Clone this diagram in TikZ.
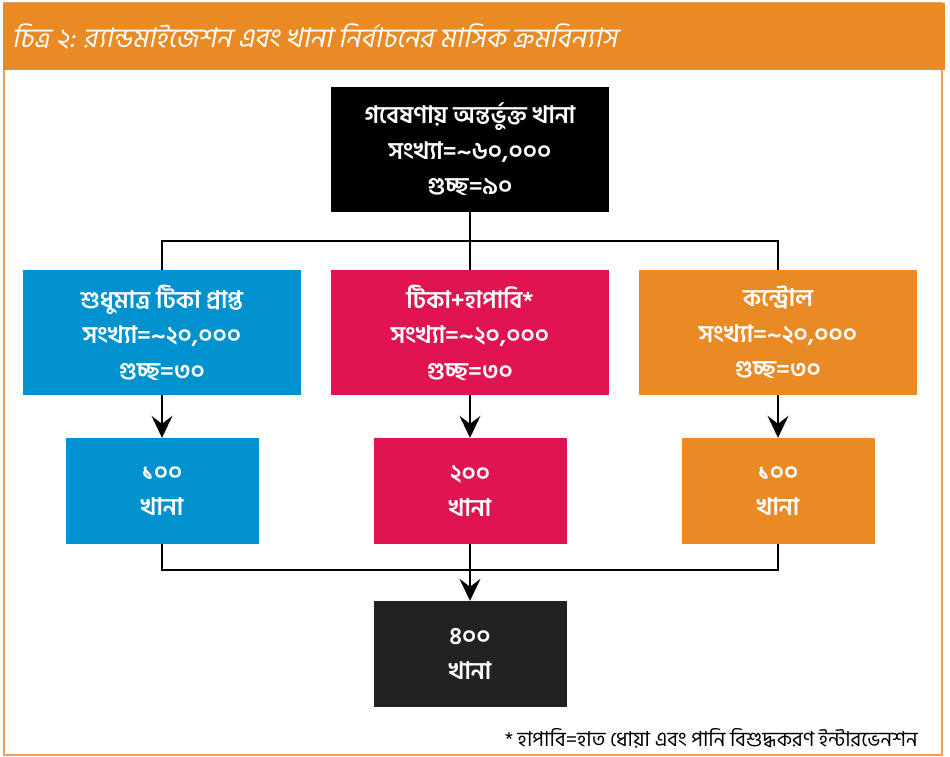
\documentclass[tikz,border=0pt]{standalone}
\usepackage{fontspec}
\newfontfamily\bn[Script=Bengali]{Hind Siliguri}
\newfontfamily\bnit[Script=Bengali,FakeSlant=0.2]{Hind Siliguri}
\usetikzlibrary{arrows.meta}
\definecolor{ttlorange}{HTML}{E98A24}
\definecolor{cblue}{HTML}{0092CF}
\definecolor{cpink}{HTML}{E01450}
\definecolor{corange}{HTML}{E98A24}
\definecolor{cdark}{HTML}{232220}
\definecolor{framec}{HTML}{EAA15A}
\tikzset{
  bigbox/.style={draw=none, minimum width=278pt, minimum height=125pt, inner sep=0pt, align=center, text=white,
    font=\bn\bfseries\fontsize{24}{35.5}\selectfont},
  smallbox/.style={draw=none, minimum width=193pt, minimum height=106pt, inner sep=0pt, align=center, text=white,
    font=\bn\bfseries\fontsize{24}{35.5}\selectfont},
  conn/.style={draw=black, line width=1.5pt},
  arr/.style={conn, -{Stealth[length=22pt, width=21pt, inset=8pt]}},
}
\begin{document}
\begin{tikzpicture}[x=1pt,y=-1pt]
\useasboundingbox (0,0) rectangle (950,757);
\fill[white] (0,0) rectangle (950,757);
% frame and title bar
\draw[framec, line width=1.5pt] (4,3) rectangle (942,755);
\fill[ttlorange] (3,3) rectangle (945,70);
\node[anchor=west, text=white, inner sep=0pt, font=\bnit\fontsize{27}{30}\selectfont] (title) at (12,37)
  {চিত্র ২: র‍্যান্ডমাইজেশন এবং খানা নির্বাচনের মাসিক ক্রমবিন্যাস};
% boxes
\node[bigbox, fill=black] (top) at (470,149.5) {গবেষণায় অন্তর্ভুক্ত খানা\\সংখ্যা=\textasciitilde৬০,০০০\\গুচ্ছ=৯০};
\node[bigbox, fill=cblue] (b1) at (162,332.5) {শুধুমাত্র টিকা প্রাপ্ত\\সংখ্যা=\textasciitilde২০,০০০\\গুচ্ছ=৩০};
\node[bigbox, fill=cpink] (b2) at (470,332.5) {টিকা+হাপাবি*\\সংখ্যা=\textasciitilde২০,০০০\\গুচ্ছ=৩০};
\node[bigbox, fill=corange] (b3) at (778,332.5) {কন্ট্রোল\\সংখ্যা=\textasciitilde২০,০০০\\গুচ্ছ=৩০};
\node[smallbox, fill=cblue] (c1) at (162,491) {১০০\\খানা};
\node[smallbox, fill=cpink] (c2) at (470,491) {২০০\\খানা};
\node[smallbox, fill=corange] (c3) at (778,491) {১০০\\খানা};
\node[smallbox, fill=cdark] (d) at (470,654) {৪০০\\খানা};
% connectors
\coordinate (jt) at (470,241);
\coordinate (jb) at (470,570);
\draw[conn] (top.south) -- (jt);
\draw[conn] (b1.north) |- (jt) -| (b3.north);
\draw[conn] (b2.north) -- (jt);
\draw[arr] (b1.south) -- (c1.north);
\draw[arr] (b2.south) -- (c2.north);
\draw[arr] (b3.south) -- (c3.north);
\draw[conn] (c1.south) |- (jb) -| (c3.south);
\draw[arr] (c2.south) -- (d.north);
% footnote
\node[anchor=east, inner sep=0pt, font=\bn\fontsize{20.5}{24}\selectfont] (fn) at (918,738)
  {* হাপাবি=হাত ধোয়া এবং পানি বিশুদ্ধকরণ ইন্টারভেনশন};
\end{tikzpicture}
\end{document}
